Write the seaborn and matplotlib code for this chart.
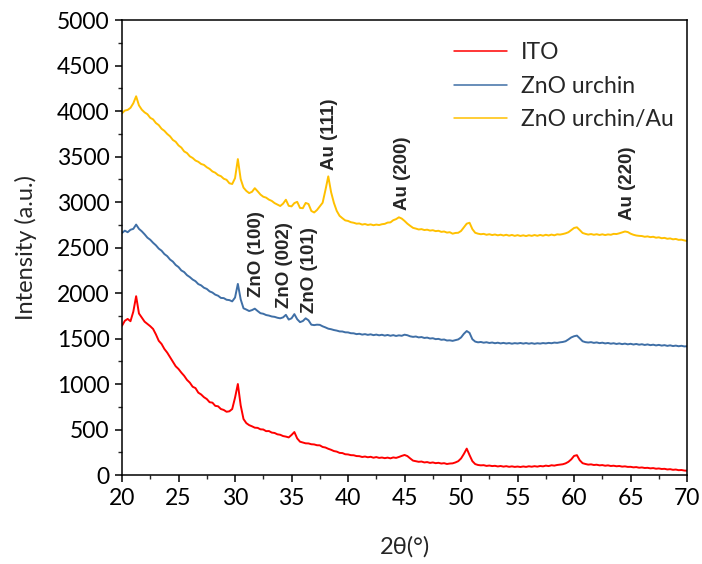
import numpy as np
import pandas as pd
import matplotlib
matplotlib.use("Agg")
import matplotlib.pyplot as plt
import seaborn as sns
from matplotlib.ticker import MultipleLocator
from matplotlib.font_manager import FontProperties

# Scan angles (2θ, degrees), 0.25° step
two_theta = np.round(np.arange(20.0, 70.0001, 0.25), 2)

ito = [
    1640, 1695, 1715, 1690, 1795, 1965, 1775, 1730, 1685, 1660, 1635, 1605, 1545, 1475, 1440, 1385, 1345, 1295, 1245, 1195,
    1165, 1125, 1090, 1045, 1015, 970, 955, 905, 885, 855, 835, 800, 795, 760, 755, 725, 715, 695, 700, 725,
    850, 1000, 765, 615, 570, 548, 535, 520, 518, 502, 500, 482, 483, 466, 462, 447, 442, 428, 422, 413,
    440, 472, 402, 366, 357, 348, 347, 338, 336, 327, 326, 308, 302, 288, 277, 263, 257, 243, 241, 228,
    226, 218, 217, 208, 207, 198, 203, 195, 200, 190, 197, 188, 192, 185, 191, 183, 193, 188, 198, 210,
    220, 208, 182, 158, 152, 145, 148, 138, 142, 133, 138, 130, 134, 126, 130, 121, 126, 128, 138, 152,
    182, 232, 290, 218, 152, 120, 110, 106, 108, 100, 104, 98, 101, 94, 99, 92, 97, 90, 95, 89,
    93, 88, 94, 89, 96, 91, 97, 92, 99, 95, 103, 98, 107, 103, 110, 114, 118, 128, 145, 172,
    210, 218, 162, 130, 121, 114, 117, 110, 113, 106, 109, 102, 106, 99, 102, 96, 99, 92, 95, 89,
    90, 84, 87, 80, 83, 77, 79, 73, 76, 69, 72, 66, 68, 61, 64, 57, 60, 53, 55, 49,
    47,
]

zno_urchin = [
    2660, 2685, 2668, 2695, 2705, 2752, 2705, 2678, 2645, 2608, 2585, 2552, 2524, 2488, 2465, 2428, 2405, 2368, 2345, 2308,
    2285, 2248, 2230, 2196, 2175, 2148, 2130, 2098, 2084, 2058, 2045, 2018, 2005, 1982, 1970, 1946, 1944, 1926, 1922, 1908,
    1950, 2100, 1930, 1832, 1818, 1802, 1812, 1828, 1802, 1778, 1772, 1758, 1752, 1742, 1738, 1728, 1722, 1732, 1760, 1708,
    1722, 1768, 1712, 1680, 1692, 1722, 1700, 1652, 1647, 1652, 1650, 1634, 1622, 1608, 1602, 1593, 1587, 1578, 1577, 1568,
    1567, 1558, 1557, 1548, 1552, 1543, 1548, 1540, 1546, 1537, 1543, 1535, 1541, 1532, 1539, 1530, 1537, 1528, 1535, 1530,
    1542, 1536, 1524, 1518, 1522, 1512, 1516, 1506, 1510, 1500, 1503, 1493, 1496, 1486, 1489, 1478, 1480, 1474, 1482, 1490,
    1512, 1552, 1582, 1562, 1492, 1466, 1458, 1462, 1454, 1459, 1451, 1456, 1448, 1454, 1446, 1452, 1445, 1450, 1443, 1449,
    1445, 1451, 1444, 1450, 1443, 1449, 1442, 1448, 1444, 1450, 1446, 1452, 1448, 1455, 1452, 1458, 1462, 1470, 1490, 1512,
    1525, 1532, 1502, 1470, 1460, 1456, 1460, 1452, 1457, 1449, 1454, 1446, 1451, 1443, 1448, 1440, 1446, 1438, 1444, 1436,
    1442, 1434, 1440, 1432, 1437, 1429, 1435, 1427, 1432, 1424, 1430, 1422, 1427, 1419, 1425, 1417, 1422, 1415, 1420, 1413,
    1415,
]

zno_urchin_au = [
    3975, 4005, 4012, 4035, 4085, 4162, 4062, 4015, 3985, 3965, 3925, 3908, 3868, 3845, 3805, 3782, 3748, 3722, 3682, 3662,
    3622, 3598, 3556, 3538, 3502, 3484, 3456, 3442, 3418, 3408, 3382, 3364, 3336, 3322, 3296, 3284, 3256, 3244, 3206, 3198,
    3262, 3472, 3252, 3158, 3122, 3098, 3112, 3152, 3118, 3082, 3058, 3048, 3026, 3012, 2988, 2972, 2956, 2982, 3025, 2958,
    2952, 2988, 3002, 2935, 2932, 2990, 2978, 2902, 2885, 2912, 2952, 2992, 3132, 3282, 3108, 2990, 2902, 2848, 2822, 2798,
    2792, 2778, 2772, 2762, 2764, 2752, 2758, 2748, 2754, 2745, 2752, 2747, 2756, 2760, 2774, 2776, 2800, 2812, 2832, 2818,
    2792, 2762, 2738, 2716, 2708, 2698, 2702, 2692, 2696, 2686, 2690, 2680, 2684, 2672, 2676, 2664, 2668, 2652, 2660, 2662,
    2682, 2722, 2762, 2772, 2702, 2662, 2652, 2646, 2650, 2640, 2646, 2637, 2643, 2634, 2641, 2632, 2640, 2630, 2638, 2628,
    2636, 2627, 2634, 2626, 2635, 2628, 2637, 2629, 2638, 2630, 2640, 2632, 2642, 2634, 2645, 2642, 2648, 2656, 2668, 2692,
    2715, 2722, 2692, 2660, 2650, 2642, 2648, 2640, 2646, 2638, 2645, 2637, 2644, 2640, 2650, 2648, 2656, 2666, 2676, 2670,
    2652, 2640, 2632, 2628, 2626, 2618, 2622, 2614, 2618, 2608, 2612, 2602, 2606, 2596, 2600, 2590, 2594, 2584, 2586, 2578,
    2572,
]

sample_names = ["ITO", "ZnO urchin", "ZnO urchin/Au"]
sample_colors = ["#FF0000", "#3F6FA6", "#FFC000"]

# Peak labels: text, 2θ position, intensity at the text's lower end
peak_labels = ["ZnO (100)", "ZnO (002)", "ZnO (101)", "Au (111)", "Au (200)", "Au (220)"]
peak_x = [31.9, 34.42, 36.55, 38.4, 44.78, 64.73]
peak_y = [1956, 1835, 1780, 3352, 2912, 2802]

df = pd.concat(
    [
        pd.DataFrame({"2theta": two_theta, "Intensity": vals, "Sample": name})
        for name, vals in zip(sample_names, [ito, zno_urchin, zno_urchin_au])
    ],
    ignore_index=True,
)

sns.set_theme(style="ticks")
plt.rcParams["font.family"] = ["Lato", "DejaVu Sans"]

fig = plt.figure(figsize=(7.02, 5.64), dpi=100)
ax = fig.add_axes([0.1738, 0.1578, 0.8050, 0.8067])

sns.lineplot(
    data=df, x="2theta", y="Intensity", hue="Sample",
    palette=dict(zip(sample_names, sample_colors)),
    estimator=None, sort=False, linewidth=1.4, ax=ax,
)

ax.set_xlim(20, 70)
ax.set_ylim(0, 5000)
ax.xaxis.set_major_locator(MultipleLocator(5))
ax.xaxis.set_minor_locator(MultipleLocator(2.5))
ax.yaxis.set_major_locator(MultipleLocator(500))
ax.yaxis.set_minor_locator(MultipleLocator(250))
ax.tick_params(which="major", direction="out", length=5, width=1.1, labelsize=16.5, colors="black",
               top=False, right=False, pad=4)
ax.tick_params(which="minor", direction="out", length=3, width=1.0, top=False, right=False)
for side in ["left", "bottom", "top", "right"]:
    ax.spines[side].set_visible(True)
    ax.spines[side].set_color("black")
    ax.spines[side].set_linewidth(1.1)

ax.set_xlabel("2θ(°)", fontsize=17, labelpad=20)
ax.set_ylabel("Intensity (a.u.)", fontsize=17, labelpad=14)

peak_font = FontProperties(family="Liberation Sans", weight="bold", size=13.5)
for txt, px, py in zip(peak_labels, peak_x, peak_y):
    ax.text(px, py, txt, rotation=90, ha="center", va="bottom", fontproperties=peak_font)

leg = ax.legend(loc="upper right", bbox_to_anchor=(1.012, 0.997), frameon=False, fontsize=16.5,
                handlelength=2.3, handletextpad=0.6, labelspacing=0.55)
for line in leg.get_lines():
    line.set_linewidth(1.1)

fig.savefig("out.png", dpi=100)
